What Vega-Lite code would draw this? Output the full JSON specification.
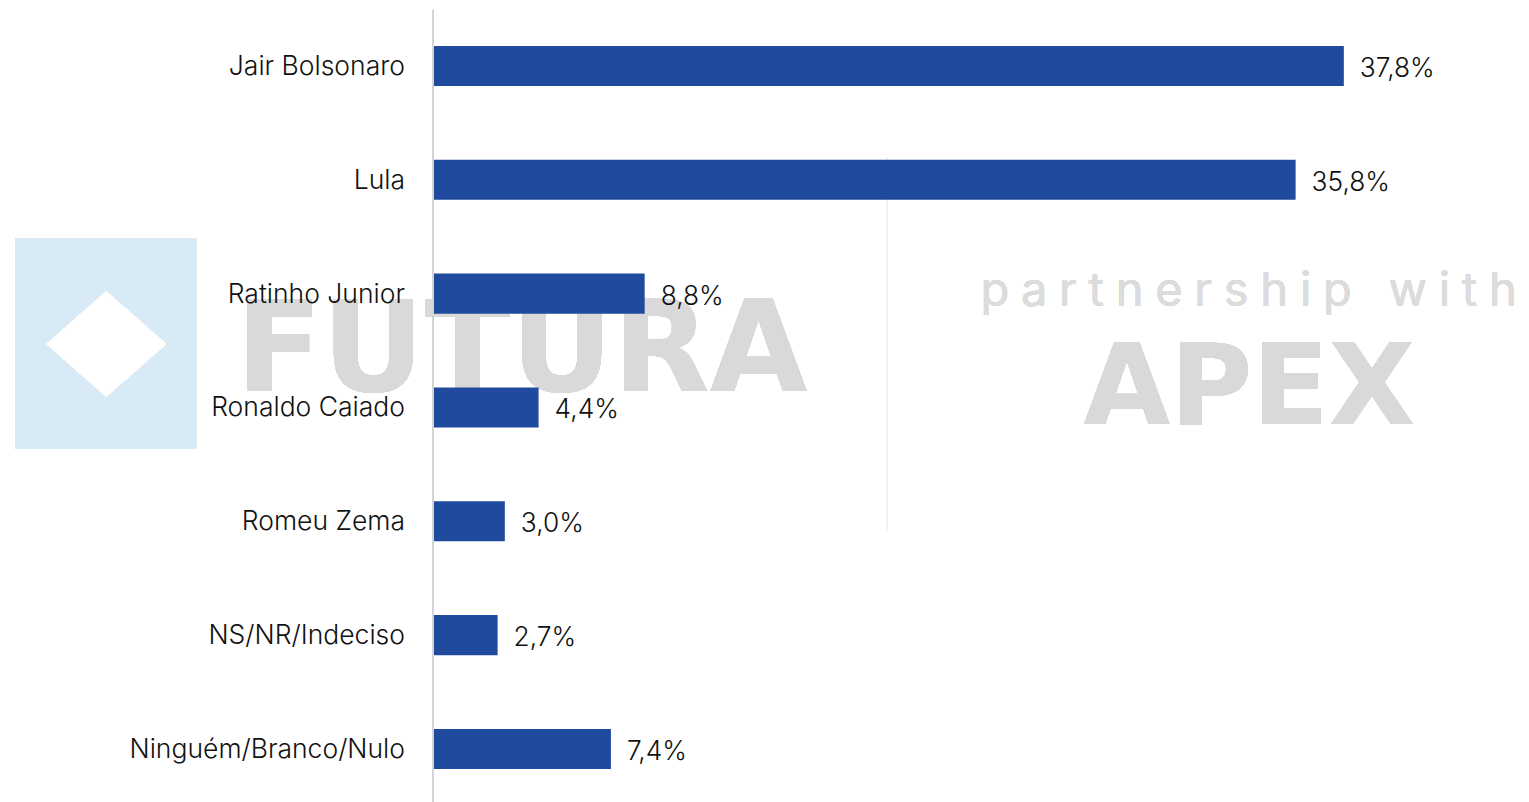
{
"$schema":"https://vega.github.io/schema/vega-lite/v6.json",
"autosize":{"type":"none"},
"padding":{"left":432.5,"top":9,"right":0,"bottom":0},
"width":1096.5,"height":793,
"background":"white",
"config":{"view":{"stroke":null}},
"data":{"values":[
{"nome":"Jair Bolsonaro","pct":37.8,"rotulo":"37,8%"},
{"nome":"Lula","pct":35.8,"rotulo":"35,8%"},
{"nome":"Ratinho Junior","pct":8.8,"rotulo":"8,8%"},
{"nome":"Ronaldo Caiado","pct":4.4,"rotulo":"4,4%"},
{"nome":"Romeu Zema","pct":3.0,"rotulo":"3,0%"},
{"nome":"NS/NR/Indeciso","pct":2.7,"rotulo":"2,7%"},
{"nome":"Ninguém/Branco/Nulo","pct":7.4,"rotulo":"7,4%"}
]},
"resolve":{"scale":{"y":"independent"}},
"layer":[
{"layer":[
{"mark":{"type":"rect","color":"#d9eaf7"},"encoding":{
 "x":{"datum":-17.3,"type":"quantitative","scale":{"domain":[0,45.48],"nice":false,"zero":false},"axis":null},
 "x2":{"datum":-9.8},
 "y":{"datum":238,"type":"quantitative","scale":{"domain":[802,9],"nice":false,"zero":false},"axis":null},
 "y2":{"datum":449}}},
{"mark":{"type":"point","shape":"M-0.5 0L0 -0.44L0.5 0L0 0.44Z","filled":true,"color":"white","opacity":1,"size":57600},"encoding":{
 "x":{"datum":-13.53,"type":"quantitative"},"y":{"datum":344,"type":"quantitative"}}},
{"mark":{"type":"rule","color":"#f0f0f0","strokeWidth":1},"encoding":{
 "x":{"datum":18.86,"type":"quantitative"},"y":{"datum":157,"type":"quantitative"},"y2":{"datum":531}}},
{"mark":{"type":"text","text":"FUTURA","font":"DejaVu Sans","fontWeight":"bold","fontSize":126,"color":"#d9d9d9","align":"center","baseline":"alphabetic"},"encoding":{
 "x":{"datum":3.7,"type":"quantitative"},"y":{"datum":391,"type":"quantitative"}}},
{"mark":{"type":"text","text":"p\u2005a\u2005r\u2005t\u2005n\u2005e\u2005r\u2005s\u2005h\u2005i\u2005p\u2005 \u2005w\u2005i\u2005t\u2005h","font":"Inter","fontSize":47,"color":"#dcdcdc","align":"center","baseline":"alphabetic"},"encoding":{
 "x":{"datum":33.85,"type":"quantitative"},"y":{"datum":306,"type":"quantitative"}}},
{"mark":{"type":"text","text":"APEX","font":"DejaVu Sans","fontWeight":"bold","fontSize":112,"color":"#d9d9d9","align":"center","baseline":"alphabetic"},"encoding":{
 "x":{"datum":33.88,"type":"quantitative"},"y":{"datum":424,"type":"quantitative"}}}
]},
{"layer":[
{"mark":{"type":"bar","color":"#1f4a9e"},"encoding":{
 "x":{"field":"pct","type":"quantitative"},
 "y":{"field":"nome","type":"nominal","sort":null,"scale":{"range":[0,796.9],"paddingInner":0.648,"paddingOuter":0.324},
  "axis":{"orient":"left","zindex":1,"title":null,"ticks":false,"domainColor":"#d4d4d4","domainWidth":2,"labelPadding":28,"labelOffset":1,"labelFont":"Inter","labelFontSize":26.5,"labelFontWeight":300,"labelColor":"#111111","grid":false,"labelLimit":400}}}},
{"mark":{"type":"text","align":"left","baseline":"middle","dx":16,"dy":3,"font":"Inter","fontSize":26.3,"fontWeight":300,"color":"#111111"},"encoding":{
 "x":{"field":"pct","type":"quantitative"},
 "y":{"field":"nome","type":"nominal","sort":null},
 "text":{"field":"rotulo"}}}
]}
]
}
